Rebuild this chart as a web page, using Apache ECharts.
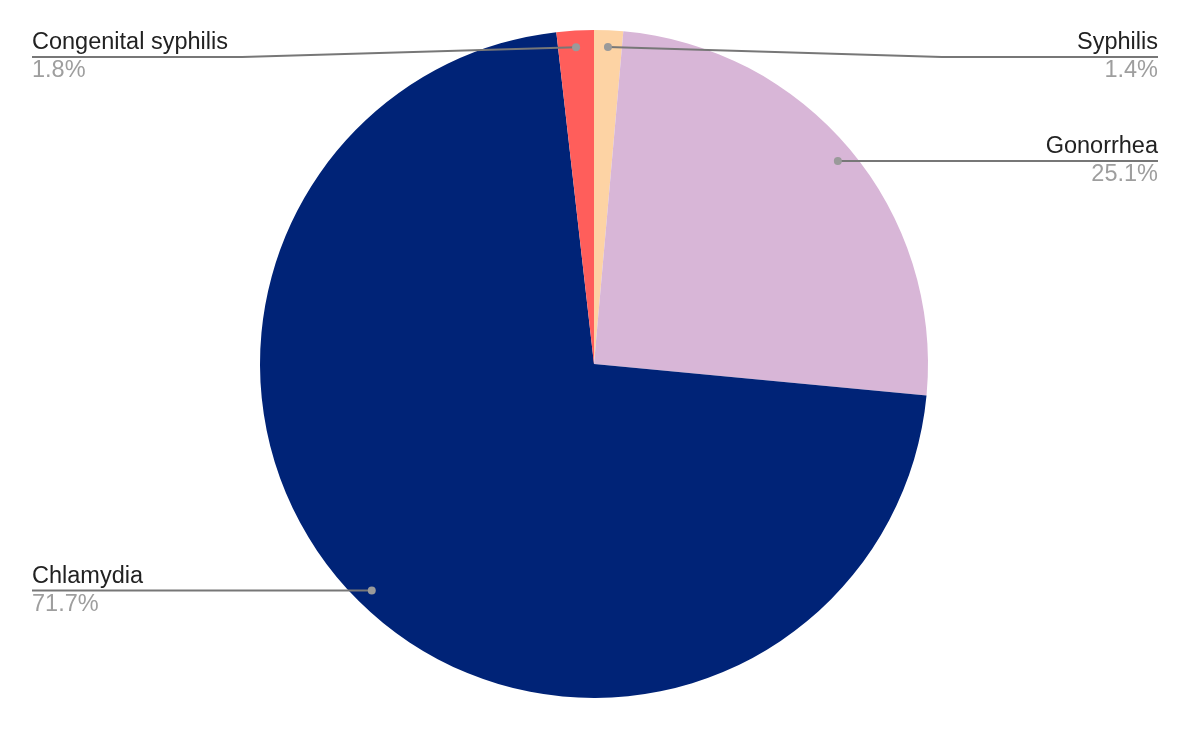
<!DOCTYPE html>
<html>
<head>
<meta charset="utf-8">
<script src="https://cdn.jsdelivr.net/npm/echarts@6/dist/echarts.min.js"></script>
<style>
html,body{margin:0;padding:0;background:#fff;}
#chart{width:1190px;height:730px;}
</style>
</head>
<body>
<div id="chart"></div>
<script>
var categories = ['Syphilis', 'Gonorrhea', 'Chlamydia', 'Congenital syphilis'];
var values = [1.4, 25.1, 71.7, 1.8];
var colors = ['#fdd3a4', '#d8b6d7', '#002377', '#ff5e5b'];

var CX = 594, CY = 364, R = 334, DOT = 0.95, MIN_Y = 57, EDGE = 32;
var FONT = 'Liberation Sans, Arial, sans-serif';

var data = categories.map(function (c, i) {
  return { name: c, value: values[i], itemStyle: { color: colors[i] } };
});
var ghostData = categories.map(function (c, i) {
  return { name: c, value: values[i], itemStyle: { color: 'rgba(0,0,0,0)' } };
});

var chart = echarts.init(document.getElementById('chart'));
chart.setOption({
  animation: false,
  backgroundColor: '#ffffff',
  series: [
    {
      // filled slices
      type: 'pie',
      z: 1,
      center: [CX, CY],
      radius: R,
      startAngle: 90,
      clockwise: true,
      silent: true,
      data: data,
      label: { show: false },
      labelLine: { show: false }
    },
    {
      // labels and leader lines, drawn above the slices
      type: 'pie',
      z: 5,
      center: [CX, CY],
      radius: R,
      startAngle: 90,
      clockwise: true,
      silent: true,
      avoidLabelOverlap: false,
      data: ghostData,
      label: {
        show: true,
        position: 'outside',
        alignTo: 'edge',
        edgeDistance: EDGE,
        fontFamily: FONT,
        formatter: function (p) {
          return '{n|' + p.name + '}\n{p|' + p.percent.toFixed(1) + '%}';
        },
        rich: {
          n: { fontSize: 23.5, color: '#222222', lineHeight: 28, fontFamily: FONT },
          p: { fontSize: 23.5, color: '#9e9e9e', lineHeight: 28, fontFamily: FONT }
        }
      },
      labelLine: {
        show: true,
        length: 10,
        length2: 10,
        lineStyle: { color: '#777777', width: 2 }
      },
      labelLayout: function (p) {
        var pts = p.labelLinePoints;
        if (!pts) return {};
        var ex = pts[0][0], ey = pts[0][1];
        var dx = CX + (ex - CX) * DOT, dy = CY + (ey - CY) * DOT;
        var left = ex < CX;
        var ly = Math.max(dy, MIN_Y);
        var edgeX = left ? p.labelRect.x : p.labelRect.x + p.labelRect.width;
        var elbowX = ly > dy + 0.5 ? dx + (left ? -1 : 1) * R : dx;
        return {
          y: ly,
          verticalAlign: 'middle',
          labelLinePoints: [[dx, dy], [elbowX, ly], [edgeX, ly]]
        };
      }
    },
    {
      // dots at the start of each leader line
      type: 'pie',
      z: 8,
      center: [CX, CY],
      radius: R * DOT,
      startAngle: 90,
      clockwise: true,
      silent: true,
      avoidLabelOverlap: false,
      data: ghostData,
      label: {
        show: true,
        position: 'outside',
        formatter: '{d| }',
        rich: {
          d: { width: 8, height: 8, backgroundColor: '#9a9a9a', borderRadius: 4, fontSize: 1 }
        }
      },
      labelLine: {
        show: true,
        length: 5,
        length2: 5,
        lineStyle: { opacity: 0 }
      },
      labelLayout: function (p) {
        var pts = p.labelLinePoints;
        if (!pts) return {};
        return { x: pts[0][0], y: pts[0][1], align: 'center', verticalAlign: 'middle' };
      }
    }
  ]
});
</script>
</body>
</html>
